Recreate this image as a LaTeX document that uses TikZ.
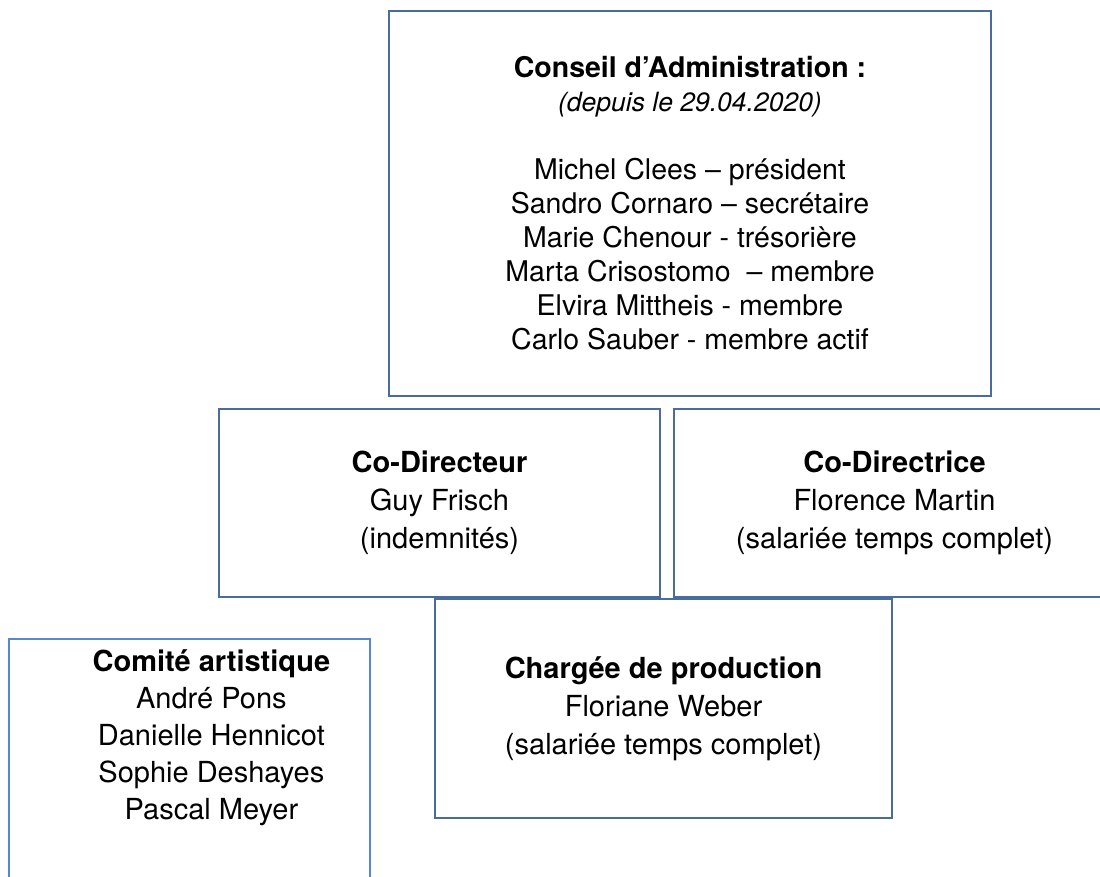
\documentclass[tikz,border=0pt]{standalone}
\usepackage{fontspec}
\setmainfont{TeX Gyre Heros}
\usetikzlibrary{calc, positioning}
\definecolor{boxblue}{RGB}{72,108,160}
\definecolor{lightblue}{RGB}{88,136,204}

\begin{document}
\begin{tikzpicture}[x=1pt, y=-1pt,
    box/.style={draw=boxblue, line width=1.8pt, rectangle, inner sep=0pt, align=center},
    small/.style={font=\fontsize{28.5}{34}\selectfont},
    big/.style={font=\fontsize{29}{38}\selectfont}]
    \useasboundingbox (0,0) rectangle (1100,876);

    \coordinate (C) at (690, 203.5);
    \coordinate (D1) at (439.5, 503);
    \coordinate (D2) at (894.5, 503);
    \coordinate (P) at (663.5, 708.5);
    \coordinate (A) at (8, 638);

    \node[box, small, minimum width=602pt, minimum height=385pt] (conseil) at (C)
        {\textbf{Conseil d’Administration :}\\
         {\fontsize{26.5}{34}\selectfont\itshape (depuis le 29.04.2020)}\\[34pt]
         Michel Clees – président\\
         Sandro Cornaro – secrétaire\\
         Marie Chenour - trésorière\\
         Marta Crisostomo \ – membre\\
         Elvira Mittheis - membre\\
         Carlo Sauber - membre actif};

    \node[box, big, minimum width=441pt, minimum height=188pt] (codir) at (D1)
        {\textbf{Co-Directeur}\\ Guy Frisch\\ (indemnités)};
    \node[box, big, minimum width=441pt, minimum height=188pt] (codirice) at (D2)
        {\textbf{Co-Directrice}\\ Florence Martin\\ (salariée temps complet)};
    \node[box, big, minimum width=457pt, minimum height=219pt] (charge) at (P)
        {\textbf{Chargée de production}\\ Floriane Weber\\ (salariée temps complet)};

    % comite box runs past the bottom edge
    \node[box, draw=lightblue, minimum width=361pt, minimum height=300pt, anchor=north west] (comite) at (A) {};
    \node[font=\fontsize{29}{37}\selectfont, align=center, anchor=north] (comitetext) at ($(comite.north)+(22,8)$)
        {\textbf{Comité artistique}\\ André Pons\\ Danielle Hennicot\\ Sophie Deshayes\\ Pascal Meyer};
\end{tikzpicture}
\end{document}
